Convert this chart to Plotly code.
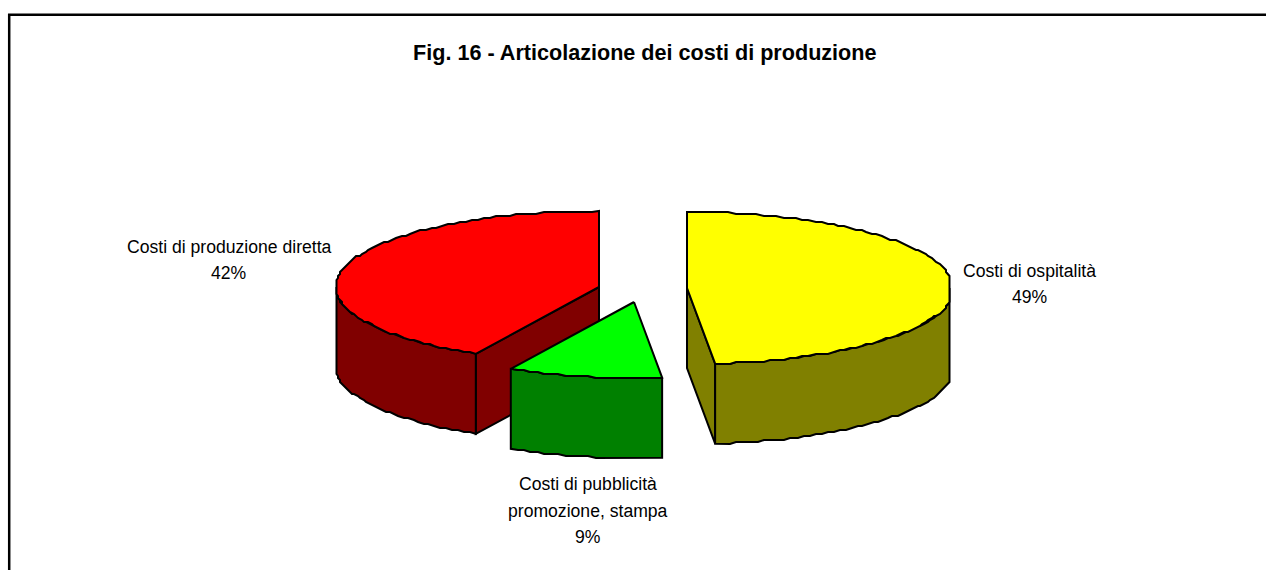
import numpy as np
import plotly.graph_objects as go

TITLE = "Fig. 16 - Articolazione dei costi di produzione"
categories = ["Costi di ospitalità", "Costi di pubblicità promozione, stampa", "Costi di produzione diretta"]
shares = [48.5, 9.4, 42.1]
share_labels = ["49%", "9%", "42%"]

# Layout of the drawing (pixel-like axis units)
W, H = 1266, 570
RX, RY, DEPTH, RX_LIMIT, TILT_SHIFT = 265, 76, 80, 262.5, 1.6
CENTERS = [(687, 288), (634, 302), (599, 287)]
TOP = ["#ffff00", "#00ff00", "#ff0000"]
SIDE = ["#808000", "#008000", "#800000"]
LABEL_POS = [(1029.5, [271, 297]), (588, [484, 511, 537]), (229, [247, 273])]
LABEL_LINES = [["Costi di ospitalità"], ["Costi di pubblicità", "promozione, stampa"], ["Costi di produzione diretta"]]


def arc(c, a0, a1, drop=0.0):
    """Points on the projected rim, clockwise from 12 o'clock; slightly stepped like the source."""
    n = max(int(abs(a1 - a0) / 1.5), 2)
    t = np.radians(np.linspace(a0, a1, n))
    x = c[0] + RX * np.sin(t) + TILT_SHIFT * (1 - np.cos(t))
    y = c[1] - RY * np.cos(t)
    x0, x1, y0, y1 = x[0], x[-1], y[0], y[-1]
    x = np.round(x / 2) * 2
    y = np.round(y / 2) * 2
    x[0], x[-1], y[0], y[-1] = x0, x1, y0, y1
    x = np.clip(x, c[0] - RX_LIMIT, c[0] + RX_LIMIT)
    return list(x), list(y + drop)


def poly(fig, xs, ys, color):
    fig.add_trace(go.Scatter(
        x=xs + xs[:1], y=ys + ys[:1], mode="lines", fill="toself", fillcolor=color,
        line=dict(color="#000000", width=2), hoverinfo="skip", showlegend=False))


edges = np.concatenate([[0], np.cumsum(shares)]) * 360 / sum(shares)
fig = go.Figure()

for i in [2, 0, 1]:
    c = CENTERS[i]
    a0, a1 = edges[i], edges[i + 1]
    # rim wall: only the part of the rim that faces the viewer
    v0, v1 = max(a0, 90), min(a1, 270)
    tx, ty = arc(c, v0, v1)
    bx, by = arc(c, v0, v1, DEPTH)
    # flat walls along the cut edges
    if i == 0:
        ex, ey = arc(c, a1, a1)
        poly(fig, [c[0], ex[0], ex[0], c[0]], [c[1], ey[0], ey[0] + DEPTH, c[1] + DEPTH], SIDE[i])
    if i == 2:
        ex, ey = arc(c, a0, a0)
        poly(fig, [c[0], ex[0], ex[0], c[0]], [c[1], ey[0], ey[0] + DEPTH, c[1] + DEPTH], SIDE[i])
    poly(fig, tx + bx[::-1], ty + by[::-1], SIDE[i])
    # top face
    ax, ay = arc(c, a0, a1)
    poly(fig, [c[0]] + ax, [c[1]] + ay, TOP[i])

annotations = [dict(x=644.5, y=52, text=f"<b>{TITLE}</b>", showarrow=False, xref="x", yref="y",
                    font=dict(family="Liberation Sans", size=21.6, color="#000000"))]
for (cx, ys), lines, pct in zip(LABEL_POS, LABEL_LINES, share_labels):
    for y, txt in zip(ys, lines + [pct]):
        annotations.append(dict(x=cx, y=y, text=txt, showarrow=False, xref="x", yref="y",
                                font=dict(family="Liberation Sans", size=17.6, color="#000000")))

fig.update_layout(
    width=W, height=H, margin=dict(l=0, r=0, t=0, b=0), autosize=False,
    paper_bgcolor="#ffffff", plot_bgcolor="#ffffff", showlegend=False,
    xaxis=dict(range=[0, W], visible=False, fixedrange=True),
    yaxis=dict(range=[H, 0], visible=False, fixedrange=True),
    annotations=annotations,
    shapes=[
        dict(type="line", xref="x", yref="y", x0=8, x1=W, y0=14.8, y1=14.8, line=dict(color="#000000", width=2.5)),
        dict(type="line", xref="x", yref="y", x0=9.2, x1=9.2, y0=14, y1=H, line=dict(color="#000000", width=2.5)),
    ],
)
fig.write_html("out.html", config={"displayModeBar": False},
               post_script="document.documentElement.style.overflow='hidden';document.body.style.margin='0';")
